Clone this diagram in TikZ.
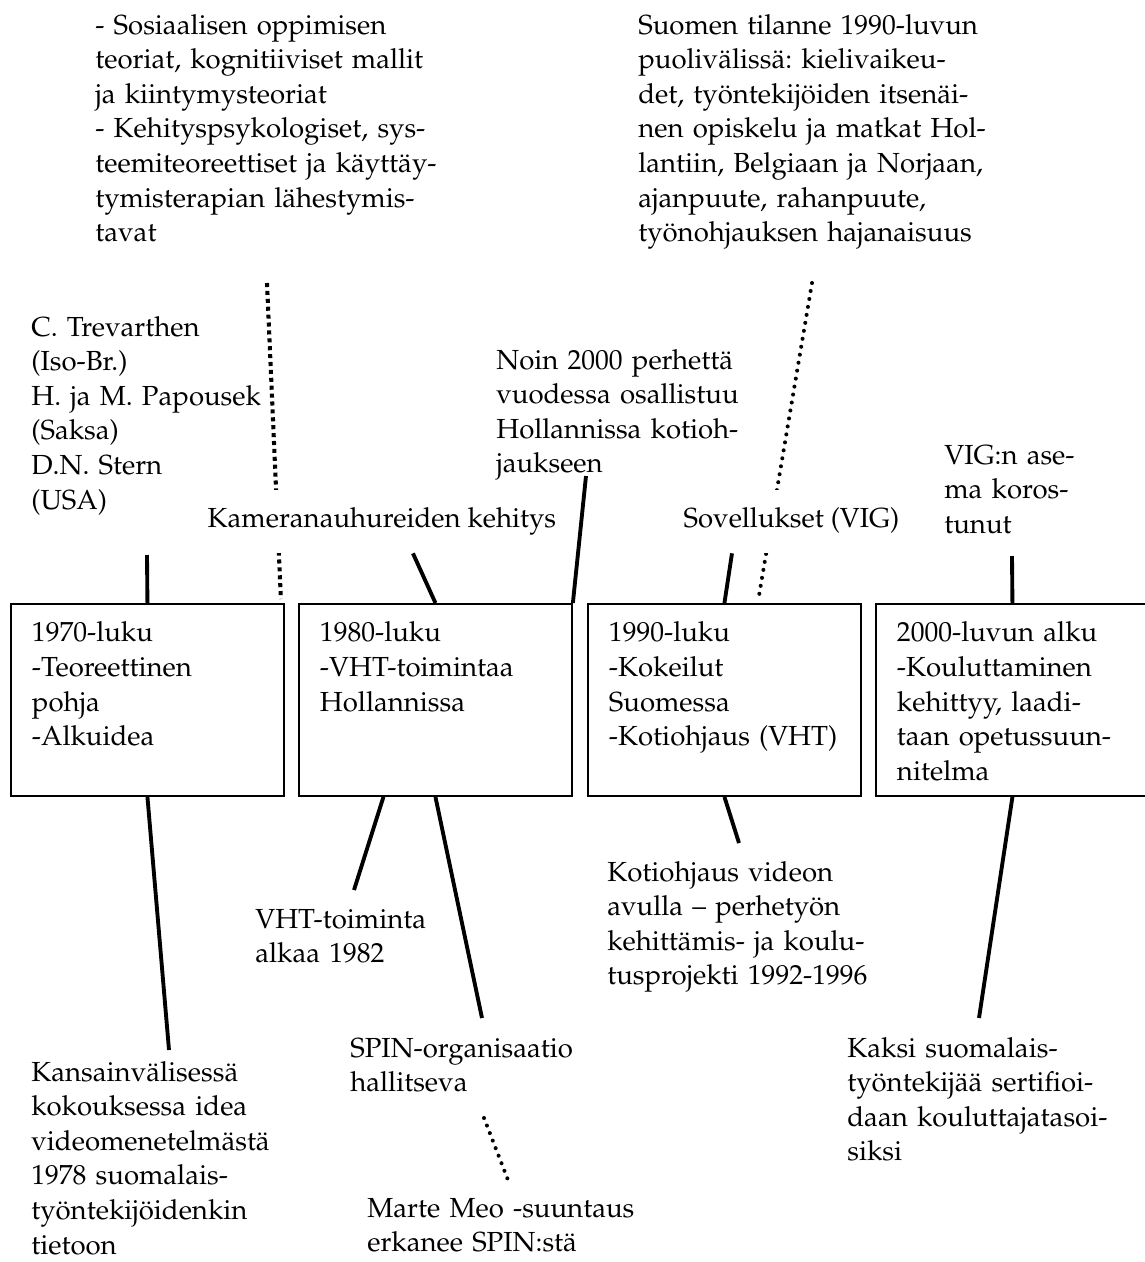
\documentclass[tikz,border=0pt]{standalone}
\usepackage[T1]{fontenc}
\renewcommand{\rmdefault}{ppl}
\frenchspacing

\begin{document}
\begin{tikzpicture}[
		x=0.02cm, y=-0.02cm,
		every node/.style={font=\fontsize{15.7}{19.7}\selectfont},
		period/.style={rectangle,	draw=black,	line width=1.1pt,	anchor=north west,	align=left,	text width=4.62cm,	inner xsep=0.42cm,	inner ysep=0pt,	text height=0.76cm,	text depth=3.08cm},
		note/.style  ={anchor=base west,	align=left,	text width=8cm,	inner sep=0pt},
		cover/.style ={anchor=base west,	fill=white,	inner xsep=3pt,	inner ysep=0pt,	text height=0.74cm,	text depth=0.52cm},
		link/.style  ={line width=2.2pt},
		dots/.style  ={line width=2.3pt,	dash pattern=on 2.3pt off 2.2pt},
		round dots/.style={line width=2.3pt,	line cap=round,	dash pattern=on 0pt off 4.6pt},
	]

	\useasboundingbox (0,0) rectangle (1145,1262);
	\clip (0,0) rectangle (1145,1262);

	\newcommand\ytop{603}

	% periods
	\foreach \i/\x/\txt in {1/10/{1970-luku\\-Teoreettinen\\pohja\\-Alkuidea},
			2/298/{1980-luku\\-VHT-toimintaa\\Hollannissa},
			3/587/{1990-luku\\-Kokeilut\\Suomessa\\-Kotiohjaus (VHT)},
			4/875/{2000-luvun alku\\-Kouluttaminen\\kehittyy, laadi-\\taan opetussuun-\\nitelma}}
		\node [period] (box\i) at (\x,\ytop) {\txt};

	% notes above
	\node [note] (theory) at (95,34) {- Sosiaalisen oppimisen\\teoriat, kognitiiviset mallit\\ja kiintymysteoriat\\- Kehityspsykologiset, sys-\\teemiteoreettiset ja käyttäy-\\tymisterapian lähestymis-\\tavat};
	\node [note] (situation) at (638,34) {Suomen tilanne 1990-luvun\\puolivälissä: kielivaikeu-\\det, työntekijöiden itsenäi-\\nen opiskelu ja matkat Hol-\\lantiin, Belgiaan ja Norjaan,\\ajanpuute, rahanpuute,\\työnohjauksen hajanaisuus};
	\node [note] (pioneers) at (31,336) {C. Trevarthen\\(Iso-Br.)\\H. ja M. Papousek\\(Saksa)\\D.N. Stern\\(USA)};
	\node [note] (families) at (496,369) {Noin 2000 perhettä\\vuodessa osallistuu\\Hollannissa kotioh-\\jaukseen};
	\node [note] (vigrole) at (944,464) {VIG:n ase-\\ma koros-\\tunut};

	% notes below
	\node [note] (vhtstart) at (255,928) {VHT-toiminta\\alkaa 1982};
	\node [note] (homevideo) at (607,881) {Kotiohjaus videon\\avulla -- perhetyön\\kehittämis- ja koulu-\\tusprojekti 1992-1996};
	\node [note] (spin) at (350,1057) {SPIN-organisaatio\\hallitseva};
	\node [note] (meeting) at (31,1081) {Kansainvälisessä\\kokouksessa idea\\videomenetelmästä\\1978 suomalais-\\työntekijöidenkin\\tietoon};
	\node [note] (trainers) at (847,1057) {Kaksi suomalais-\\työntekijää sertifioi-\\daan kouluttajatasoi-\\siksi};
	\node [note] (martemeo) at (367,1217) {Marte Meo -suuntaus\\erkanee SPIN:stä};

	% free ends
	\coordinate (theoryend) at (267,283);
	\coordinate (situationend) at (812,283);
	\coordinate (pioneersend) at (147,555);
	\coordinate (familiesend) at (586,476);
	\coordinate (vigend) at (1012,556);
	\coordinate (vhtend) at (354,890);
	\coordinate (homeend) at (739,843);
	\coordinate (spinend) at (482,1018);
	\coordinate (meetingend) at (169,1050);
	\coordinate (trainersend) at (979,1018);
	\coordinate (spintop) at (484,1118);
	\coordinate (martetop) at (508,1180);

	% dotted interconnections (behind the covering labels)
	\draw [dots] (theoryend) -- ([xshift=-0.08cm,yshift=0.08cm]box1.north east);
	\draw [round dots] (situationend) -- ([xshift=0.68cm,yshift=0.08cm]box3.north);
	\draw [round dots] (spintop) -- (martetop);

	\node [cover] (camera) at (202,527) {Kameranauhureiden kehitys};
	\node [cover] (apps) at (678,527) {Sovellukset (VIG)};

	% solid interconnections
	\draw [link] (pioneersend) -- (box1.north);
	\draw [link] ([xshift=4.22cm]camera.south west) -- (box2.north);
	\draw [link] (familiesend) -- (box2.north east);
	\draw [link] ([xshift=1.08cm]apps.south west) -- (box3.north);
	\draw [link] (vigend) -- (box4.north);

	\draw [link] (box1.south) -- (meetingend);
	\draw [link] ([xshift=-1.04cm]box2.south) -- (vhtend);
	\draw [link] (box2.south) -- (spinend);
	\draw [link] (box3.south) -- (homeend);
	\draw [link] (box4.south) -- (trainersend);

\end{tikzpicture}
\end{document}
